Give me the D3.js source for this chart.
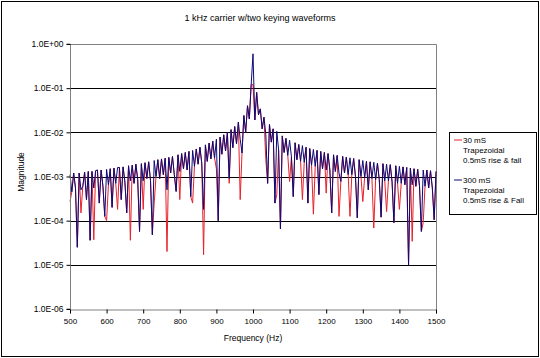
<!DOCTYPE html>
<html>
<head>
<meta charset="utf-8">
<script src="https://cdn.jsdelivr.net/npm/d3@7"></script>
<style>
  body { margin: 0; background: #fff; }
  text { font-family: "Liberation Sans", Arial, sans-serif; fill: #000; }
</style>
</head>
<body>
<div id="chart"></div>
<script>
const width = 540;
const height = 358;
const margin = { top: 44, left: 70, right: 104, bottom: 49 };

// frequency grid (Hz): 500 .. 1500, every 5 Hz
const freqStart = 500;
const freqStep = 5;

const xTicks = [500, 600, 700, 800, 900, 1000, 1100, 1200, 1300, 1400, 1500];
const yTicks = [1e-6, 1e-5, 1e-4, 1e-3, 1e-2, 1e-1, 1];
const yTickLabels = ["1.0E-06", "1.0E-05", "1.0E-04", "1.0E-03", "1.0E-02", "1.0E-01", "1.0E+00"];

const seriesNames = ["30 mS|Trapezoidal|0.5mS rise & fall", "300 mS|Trapezoidal|0.5mS rise & Fall"];
const seriesColors = ["#e8202a", "#0a0a78"];

// 300 mS keying, one row = 50 Hz (10 points)
const mag300 = [
  1.1e-3, 4.5e-4, 1.2e-3, 5.5e-4, 2.5e-5, 1.2e-3, 5e-4, 6e-4, 1.25e-3, 3e-4,
  1.3e-3, 3.6e-5, 1.3e-3, 5.5e-4, 1.35e-3, 1.4e-3, 2.5e-4, 1.4e-3, 6e-4, 1.25e-4,
  1.45e-3, 6.5e-4, 1.5e-3, 2e-4, 1.55e-3, 7e-4, 1.6e-3, 1.6e-3, 3e-4, 1.65e-3,
  7.5e-4, 1.5e-4, 1.75e-3, 8e-4, 1.8e-3, 7e-4, 1.9e-3, 8.5e-4, 5.7e-5, 1.95e-3,
  8e-4, 2.05e-3, 9e-4, 2.15e-3, 8e-4, 4.8e-5, 2.3e-3, 1e-3, 2.4e-3, 9e-4,
  2.5e-3, 1.1e-3, 2.6e-3, 5e-4, 2.7e-3, 1.2e-3, 2.85e-3, 1.1e-3, 4.6e-4, 3.1e-3,
  1.3e-3, 3.3e-3, 1.5e-3, 3.5e-3, 1.4e-3, 3.7e-3, 3.5e-4, 3.9e-3, 1.7e-3, 4.2e-3,
  1.9e-3, 4.6e-3, 2e-3, 1.8e-4, 5.2e-3, 2.2e-3, 5.7e-3, 2.5e-3, 6.3e-3, 2.6e-3,
  7e-3, 1e-4, 7.8e-3, 3.2e-3, 8.8e-3, 3.8e-3, 1e-2, 9e-4, 1.15e-2, 4.5e-3,
  1.35e-2, 5.5e-3, 1.7e-2, 7e-3, 3.4e-3, 2.4e-2, 1e-2, 4e-2, 2e-2, 1.2e-1,
  6e-1, 1.9e-2, 8e-2, 2.5e-2, 3.4e-2, 1.2e-2, 2.2e-2, 9e-3, 7e-4, 1.5e-2,
  6e-3, 1.2e-2, 2.5e-4, 1.05e-2, 4e-3, 6.5e-5, 8.3e-3, 3.5e-3, 7.3e-3, 3e-3,
  6.6e-3, 2.8e-3, 3.5e-4, 5.8e-3, 2.4e-3, 5.3e-3, 2.2e-3, 5e-3, 2.1e-3, 4.6e-3,
  2.5e-4, 4.3e-3, 1.8e-3, 4.1e-3, 1.7e-3, 3.9e-3, 3.9e-4, 3.7e-3, 1.5e-3, 3.5e-3,
  1.4e-3, 3.3e-3, 1.4e-3, 1.5e-4, 3.1e-3, 1.3e-3, 3e-3, 1.2e-3, 7.7e-4, 2.85e-3,
  1.2e-3, 2.75e-3, 1.1e-3, 2.65e-3, 1.1e-3, 2.55e-3, 1e-3, 1.15e-4, 2.4e-3, 1e-3,
  2.3e-3, 9.5e-4, 2.2e-3, 5e-4, 2.15e-3, 9e-4, 2.1e-3, 8.5e-4, 2e-3, 8.5e-4,
  1.2e-4, 1.95e-3, 8e-4, 1.9e-3, 8e-4, 1.85e-3, 7.5e-4, 9e-5, 1.75e-3, 7e-4,
  1.7e-3, 7e-4, 1.65e-3, 6.5e-4, 1.6e-3, 1e-5, 1.55e-3, 6.5e-4, 1.5e-3, 6e-4,
  1.45e-3, 6e-4, 5.7e-5, 1.4e-3, 6e-4, 1.4e-3, 5.5e-4, 1.35e-3, 5.5e-4, 1.05e-4,
  1.3e-3
];

// 30 mS keying, same grid
const mag30 = [
  2.7e-4, 4.5e-4, 1.2e-3, 5.5e-4, 2.5e-5, 1.2e-3, 1.5e-4, 6e-4, 1.25e-3, 3e-4,
  1.3e-3, 3.6e-5, 1.3e-3, 3.7e-5, 1.35e-3, 1.4e-3, 2.5e-4, 1.4e-3, 6e-4, 1.25e-4,
  1e-4, 6.5e-4, 1.5e-3, 2e-4, 1.55e-3, 7e-4, 1.8e-4, 1.6e-3, 3e-4, 1.65e-3,
  7.5e-4, 1.5e-4, 1.75e-3, 3.6e-5, 1.8e-3, 7e-4, 1.9e-3, 8.5e-4, 5.7e-5, 1.95e-3,
  1.8e-4, 2.05e-3, 9e-4, 2.15e-3, 8e-4, 4.8e-5, 2.5e-4, 1e-3, 2.4e-3, 9e-4,
  2.5e-3, 1.1e-3, 2.6e-3, 2e-5, 2.7e-3, 1.2e-3, 2.85e-3, 1.1e-3, 4.6e-4, 3.1e-3,
  3e-4, 3.3e-3, 1.5e-3, 3.5e-3, 1.4e-3, 3.7e-3, 3.5e-4, 2.5e-4, 1.7e-3, 4.2e-3,
  1.9e-3, 4.6e-3, 2e-3, 1.7e-5, 5.2e-3, 2.2e-3, 5.7e-3, 2.5e-3, 6.3e-3, 2.6e-3,
  1.5e-3, 1e-4, 7.8e-3, 3.2e-3, 8.8e-3, 3.8e-3, 1e-2, 7e-4, 1.15e-2, 4.5e-3,
  1.35e-2, 5.5e-3, 1.7e-2, 3e-4, 3.4e-3, 2.4e-2, 1e-2, 4e-2, 2e-2, 1.2e-1,
  1.2e-1, 1.9e-2, 8e-2, 2.5e-2, 3.4e-2, 1.2e-2, 2.2e-2, 2.4e-3, 7e-4, 1.5e-2,
  6e-3, 1.2e-2, 2.5e-4, 3.9e-4, 4e-3, 6.5e-5, 8.3e-3, 3.5e-3, 7.3e-3, 3e-3,
  7.7e-4, 2.8e-3, 3.5e-4, 5.8e-3, 2.4e-3, 5.3e-3, 2.2e-3, 3e-4, 2.1e-3, 4.6e-3,
  2.5e-4, 4.3e-3, 1.8e-3, 1.4e-4, 1.7e-3, 3.9e-3, 3.9e-4, 3.7e-3, 1.5e-3, 3.5e-3,
  4.2e-4, 3.3e-3, 1.4e-3, 1.5e-4, 3.1e-3, 1.3e-3, 3e-3, 1.25e-4, 7.7e-4, 2.85e-3,
  1.2e-3, 2.75e-3, 1.1e-3, 1.25e-4, 1.1e-3, 2.55e-3, 1e-3, 1.15e-4, 2.4e-3, 1e-3,
  2.7e-4, 9.5e-4, 2.2e-3, 5e-4, 2.15e-3, 9e-4, 6.8e-5, 8.5e-4, 2e-3, 8.5e-4,
  1.2e-4, 1.95e-3, 8e-4, 1.6e-4, 8e-4, 1.85e-3, 7.5e-4, 9e-5, 1.75e-3, 7e-4,
  1.8e-4, 7e-4, 1.65e-3, 6.5e-4, 1.6e-3, 1e-5, 1.55e-3, 3.4e-5, 1.5e-3, 6e-4,
  1.45e-3, 6e-4, 5.7e-5, 9e-5, 6e-4, 1.4e-3, 5.5e-4, 1.35e-3, 5.5e-4, 1.05e-4,
  1.3e-3
];

const svg = d3.select("#chart").append("svg")
  .attr("width", width)
  .attr("height", height);

// outer chart frame
svg.append("rect")
  .attr("x", 1.5).attr("y", 1.5)
  .attr("width", width - 3).attr("height", height - 3)
  .attr("fill", "#fff").attr("stroke", "#000");

const x = d3.scaleLinear().domain([500, 1500]).range([margin.left, width - margin.right]);
const y = d3.scaleLog().domain([1e-6, 1]).range([height - margin.bottom, margin.top]);

// gridlines
svg.append("g")
  .selectAll("line")
  .data(yTicks.slice(1, -1))
  .enter().append("line")
  .attr("x1", x(500)).attr("x2", x(1500))
  .attr("y1", d => Math.round(y(d)) + 0.5)
  .attr("y2", d => Math.round(y(d)) + 0.5)
  .attr("stroke", "#000");

// plot area border (top/right)
svg.append("path")
  .attr("d", `M${x(500)},${Math.round(y(1)) + 0.5}H${Math.round(x(1500)) + 0.5}V${Math.round(y(1e-6)) + 0.5}`)
  .attr("fill", "none")
  .attr("stroke", "#808080");

// series
const line = d3.line()
  .x((d, i) => x(freqStart + i * freqStep))
  .y(d => y(d));

svg.append("path")
  .datum(mag30)
  .attr("d", line)
  .attr("fill", "none")
  .attr("stroke", seriesColors[0])
  .attr("stroke-width", 1);

svg.append("path")
  .datum(mag300)
  .attr("d", line)
  .attr("fill", "none")
  .attr("stroke", seriesColors[1])
  .attr("stroke-width", 1);

// axes
const yAxis = svg.append("g")
  .attr("transform", `translate(${Math.round(x(500)) + 0.5},0)`)
  .call(d3.axisLeft(y).tickValues(yTicks).tickSize(4).tickPadding(3)
    .tickFormat((d, i) => yTickLabels[i]));

const xAxis = svg.append("g")
  .attr("transform", `translate(0,${Math.round(y(1e-6)) + 0.5})`)
  .call(d3.axisBottom(x).tickValues(xTicks).tickSize(4).tickPadding(5)
    .tickFormat(d3.format("d")));

[yAxis, xAxis].forEach(g => {
  g.select(".domain").attr("stroke", "#808080");
  g.selectAll(".tick line").attr("stroke", "#000");
  g.selectAll(".tick text")
    .style("font-family", "'Liberation Sans', Arial, sans-serif")
    .style("font-size", "8px")
    .attr("fill", "#000");
});
yAxis.selectAll(".tick text").style("font-size", "8.5px");
yAxis.select(".domain").attr("d", `M-4,${y(1)}H0V${y(1e-6)}H-4`);

// titles
svg.append("text")
  .attr("x", 260).attr("y", 21)
  .attr("text-anchor", "middle")
  .style("font-size", "9px")
  .text("1 kHz carrier w/two keying waveforms");

svg.append("text")
  .attr("x", 253).attr("y", 341)
  .attr("text-anchor", "middle")
  .style("font-size", "8.5px")
  .text("Frequency (Hz)");

svg.append("text")
  .attr("transform", "translate(24,172) rotate(-90)")
  .attr("text-anchor", "middle")
  .style("font-size", "8.5px")
  .text("Magnitude");

// legend
const legend = svg.append("g").attr("transform", "translate(449,132)");
legend.append("rect")
  .attr("x", 0.5).attr("y", 0.5)
  .attr("width", 87).attr("height", 82)
  .attr("fill", "#fff").attr("stroke", "#000");

seriesNames.forEach((name, k) => {
  const g = legend.append("g").attr("transform", `translate(0,${11 + k * 40})`);
  g.append("line")
    .attr("x1", 5).attr("x2", 13)
    .attr("y1", -3).attr("y2", -3)
    .attr("stroke", seriesColors[k]);
  name.split("|").forEach((t, j) => {
    g.append("text")
      .attr("x", 14).attr("y", j * 10)
      .style("font-size", "8px")
      .text(t);
  });
});
</script>
</body>
</html>
